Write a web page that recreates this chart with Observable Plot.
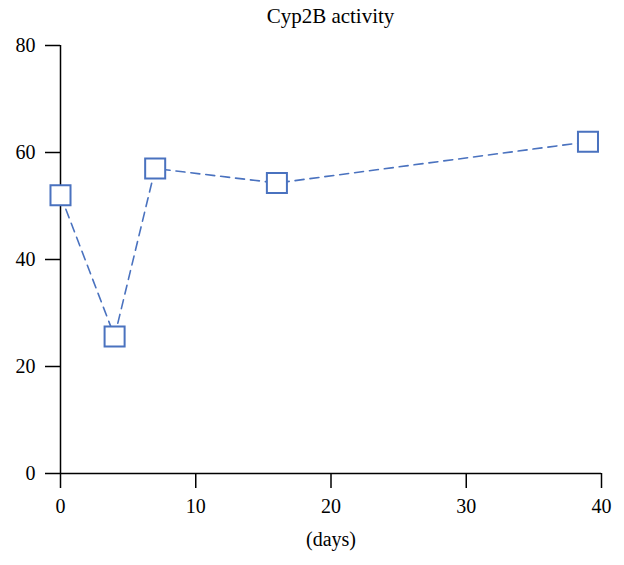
<!DOCTYPE html>
<html>
<head>
<meta charset="utf-8">
<script src="https://cdn.jsdelivr.net/npm/d3@7"></script>
<script src="https://cdn.jsdelivr.net/npm/@observablehq/plot@0.6"></script>
<style>
  body { margin: 0; background: #fff; }
  #title { width: 624px; height: 25px; box-sizing: border-box; padding-left: 37px; padding-top: 4px; text-align: center;
    font-family: "Liberation Serif", serif; font-size: 21px; line-height: 24px; color: #000; overflow: visible; }
  #chart svg { display: block; }
</style>
</head>
<body>
<div id="title">Cyp2B activity</div>
<div id="chart"></div>
<script>
const days = [0, 4, 7, 16, 39];
const activity = [52, 25.6, 57, 54.3, 62];
const xTicks = [0, 10, 20, 30, 40];
const yTicks = [0, 20, 40, 60, 80];
const data = days.map((d, i) => ({day: d, value: activity[i]}));
const blue = "#4a72bf";

const chart = Plot.plot({
  width: 624,
  height: 540,
  marginLeft: 60,
  marginRight: 23,
  marginTop: 20,
  marginBottom: 92,
  style: {fontFamily: "Liberation Serif", fontSize: "20px", background: "#fff", color: "#000"},
  x: {domain: [0, 40], ticks: xTicks},
  y: {domain: [0, 80], ticks: yTicks},
  marks: [
    Plot.axisX({ticks: xTicks, tickSize: 15, tickPadding: 10, fontSize: 20, strokeWidth: 1.5,
      label: "(days)", labelAnchor: "center", labelArrow: "none", labelOffset: 72}),
    Plot.axisY({ticks: yTicks, tickSize: 15, tickPadding: 10, fontSize: 20, strokeWidth: 1.5, label: null}),
    Plot.ruleY([0], {stroke: "#000", strokeWidth: 1.5}),
    Plot.ruleX([0], {stroke: "#000", strokeWidth: 1.5}),
    Plot.line(data, {x: "day", y: "value", stroke: blue, strokeWidth: 1.6, strokeDasharray: "9,6"}),
    Plot.dot(data, {x: "day", y: "value", symbol: "square", r: 11.3, stroke: blue, strokeWidth: 2, fill: "#fff"})
  ]
});
document.getElementById("chart").appendChild(chart);
</script>
</body>
</html>
